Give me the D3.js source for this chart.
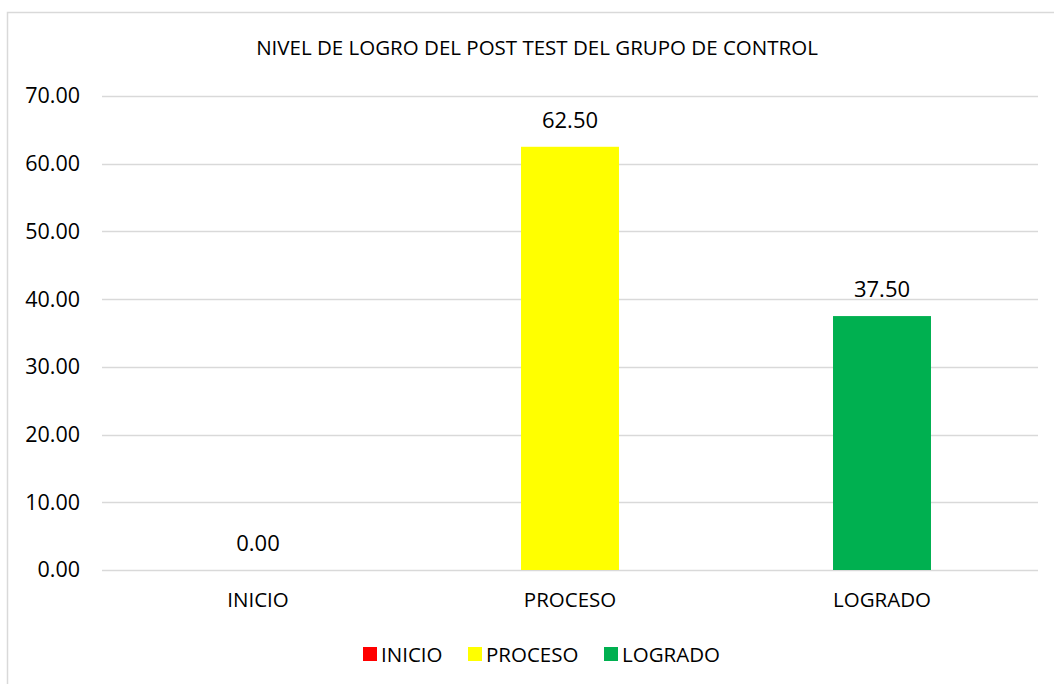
<!DOCTYPE html>
<html>
<head>
<meta charset="utf-8">
<script src="https://cdn.jsdelivr.net/npm/d3@7"></script>
<style>
body{margin:0;background:#fff;}
text{font-family:"Open Sans","Noto Sans",sans-serif;fill:#000;}
</style>
</head>
<body>
<svg class="chart" width="1054" height="684"></svg>
<script>
var categories = ["INICIO","PROCESO","LOGRADO"];
var values = [0.00, 62.50, 37.50];
var colors = ["#ff0000","#ffff00","#00b050"];
var yTicks = [0,10,20,30,40,50,60,70];
var title = "NIVEL DE LOGRO DEL POST TEST DEL GRUPO DE CONTROL";

var svg = d3.select(".chart");

// chart frame
svg.append("rect")
	.attr("x",7.5).attr("y",12.5)
	.attr("width",1060).attr("height",700)
	.style("fill","none").style("stroke","#d9d9d9").style("stroke-width",1.5);

var pLeft=102, pRight=1038, pTop=96, pBottom=570;

var scaleX = d3.scaleBand().domain(categories).range([pLeft,pRight]).paddingInner(0.686).paddingOuter(0.343);
var scaleY = d3.scaleLinear().domain([0,70]).range([pBottom,pTop]);

svg.append("text")
	.attr("x",537).attr("y",55)
	.attr("text-anchor","middle")
	.style("font-size","20.5px")
	.text(title);

// gridlines
svg.selectAll(".grid")
	.data(yTicks)
	.enter()
	.append("line")
	.attr("x1",pLeft).attr("x2",pRight)
	.attr("y1",function(d){return Math.round(scaleY(d))+0.5;})
	.attr("y2",function(d){return Math.round(scaleY(d))+0.5;})
	.style("stroke","#d9d9d9").style("stroke-width",1.5);

// y axis labels
var yAxis = d3.axisLeft(scaleY).tickValues(yTicks).tickFormat(d3.format(".2f")).tickSize(0).tickPadding(22);
var ya = svg.append("g").attr("transform","translate("+pLeft+",0)").call(yAxis);
ya.select(".domain").remove();
ya.selectAll("text").style("font-size","21.5px").attr("font-family",null);

// bars
svg.selectAll(".bar")
	.data(values)
	.enter()
	.append("rect")
	.attr("x",function(d,i){return scaleX(categories[i]);})
	.attr("y",function(d){return scaleY(d);})
	.attr("width",scaleX.bandwidth())
	.attr("height",function(d){return pBottom-scaleY(d);})
	.style("fill",function(d,i){return colors[i];});

// data labels
svg.selectAll(".lbl")
	.data(values)
	.enter()
	.append("text")
	.attr("x",function(d,i){return scaleX(categories[i])+scaleX.bandwidth()/2;})
	.attr("y",function(d){return scaleY(d)-19;})
	.attr("text-anchor","middle")
	.style("font-size","22px")
	.text(function(d){return d3.format(".2f")(d);});

// x axis labels
var xAxis = d3.axisBottom(scaleX).tickSize(0).tickPadding(22);
var xa = svg.append("g").attr("transform","translate(0,"+pBottom+")").call(xAxis);
xa.select(".domain").remove();
xa.selectAll("text").style("font-size","20.5px").attr("font-family",null);

// legend
var legX = [363,468,604];
var leg = svg.selectAll(".leg")
	.data(categories)
	.enter()
	.append("g")
	.attr("transform",function(d,i){return "translate("+legX[i]+",647)";});
leg.append("rect").attr("width",14).attr("height",14)
	.style("fill",function(d,i){return colors[i];});
leg.append("text").attr("x",18).attr("y",15)
	.style("font-size","20.5px")
	.text(function(d){return d;});
</script>
</body>
</html>
